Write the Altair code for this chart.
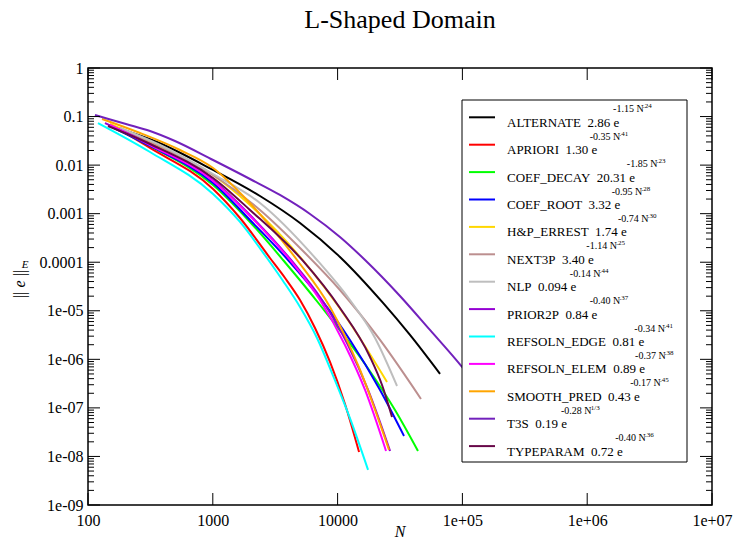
import altair as alt
import pandas as pd

# ---------------- data ----------------
series_names = ["ALTERNATE", "APRIORI", "COEF_DECAY", "COEF_ROOT", "H&P_ERREST",
                "NEXT3P", "NLP", "PRIOR2P", "REFSOLN_EDGE", "REFSOLN_ELEM",
                "SMOOTH_PRED", "T3S", "TYPEPARAM"]
series_colors = ["#000000", "#FF0000", "#00FF00", "#0000FF", "#FFD700",
                 "#BC8F8F", "#BEBEBE", "#9400D3", "#00FFFF", "#FF00FF",
                 "#FFA500", "#7221BC", "#670748"]
fit_coef = ["2.86", "1.30", "20.31", "3.32", "1.74", "3.40", "0.094", "0.84",
            "0.81", "0.89", "0.43", "0.19", "0.72"]
fit_rate = ["-1.15", "-0.35", "-1.85", "-0.95", "-0.74", "-1.14", "-0.14", "-0.40",
            "-0.34", "-0.37", "-0.17", "-0.28", "-0.40"]
fit_power = [".24", ".41", ".23", ".28", ".30", ".25", ".44", ".37", ".41", ".38",
             ".45", "1/3", ".36"]

# log10(N) and log10(||e||_E)
log_n = {
    "ALTERNATE":    [2.232, 2.553, 3.002, 3.378, 3.699, 4.019, 4.364, 4.580, 4.821],
    "APRIORI":      [2.200, 2.497, 3.002, 3.218, 3.458, 3.579, 3.699, 3.819, 3.939,
                     4.059, 4.172],
    "COEF_DECAY":   [2.176, 2.497, 3.002, 3.298, 3.563, 3.859, 4.236, 4.460, 4.644],
    "COEF_ROOT":    [2.176, 2.497, 3.002, 3.298, 3.603, 3.859, 4.099, 4.340, 4.532],
    "H&P_ERREST":   [2.176, 2.497, 3.002, 3.298, 3.699, 4.099, 4.396],
    "NEXT3P":       [2.256, 2.577, 3.002, 3.378, 3.715, 4.019, 4.340, 4.668],
    "NLP":          [2.256, 2.577, 3.002, 3.378, 3.835, 4.099, 4.300, 4.476],
    "PRIOR2P":      [2.136, 2.497, 3.002, 3.298, 3.627, 3.875, 4.083, 4.244, 4.420],
    "REFSOLN_EDGE": [2.080, 2.497, 3.002, 3.218, 3.434, 3.563, 3.699, 3.835, 3.971,
                     4.107, 4.244],
    "REFSOLN_ELEM": [2.176, 2.497, 3.002, 3.298, 3.619, 3.859, 4.059, 4.220, 4.388],
    "SMOOTH_PRED":  [2.112, 2.417, 2.737, 3.002, 3.274, 3.675, 3.939, 4.180, 4.412],
    "T3S":          [2.056, 2.304, 2.497, 2.697, 3.002, 3.298, 3.538, 3.779, 4.019,
                     4.220, 4.500, 4.740, 4.997, 5.141],
    "TYPEPARAM":    [2.160, 2.497, 3.002, 3.298, 3.723, 4.019, 4.260, 4.356, 4.436],
}
log_err = {
    "ALTERNATE":    [-1.236, -1.524, -2.100, -2.636, -3.192, -3.892, -4.839, -5.498, -6.301],
    "APRIORI":      [-1.194, -1.647, -2.492, -3.089, -3.913, -4.325, -4.778, -5.354, -6.054,
                     -6.919, -7.908],
    "COEF_DECAY":   [-1.194, -1.606, -2.409, -3.171, -3.954, -4.881, -6.157, -7.043, -7.887],
    "COEF_ROOT":    [-1.194, -1.606, -2.368, -3.130, -3.954, -4.736, -5.601, -6.631, -7.578],
    "H&P_ERREST":   [-1.153, -1.524, -2.203, -2.821, -3.892, -5.251, -6.466],
    "NEXT3P":       [-1.236, -1.606, -2.203, -2.924, -3.748, -4.572, -5.601, -6.816],
    "NLP":          [-1.236, -1.586, -2.183, -2.780, -3.954, -4.778, -5.560, -6.549],
    "PRIOR2P":      [-1.133, -1.565, -2.306, -3.027, -3.954, -4.778, -5.704, -6.631, -7.887],
    "REFSOLN_EDGE": [-1.133, -1.730, -2.595, -3.171, -3.913, -4.386, -4.922, -5.560, -6.384,
                     -7.269, -8.278],
    "REFSOLN_ELEM": [-1.174, -1.586, -2.327, -3.048, -3.954, -4.778, -5.704, -6.631, -7.887],
    "SMOOTH_PRED":  [-1.050, -1.339, -1.689, -2.059, -2.718, -3.954, -4.922, -6.219, -7.866],
    "T3S":          [-0.968, -1.153, -1.297, -1.503, -1.895, -2.286, -2.615, -3.006, -3.480,
                     -3.954, -4.695, -5.395, -6.157, -6.631],
    "TYPEPARAM":    [-1.194, -1.565, -2.265, -2.924, -3.974, -4.942, -5.951, -6.528, -7.187],
}

x_major = [1e2, 1e3, 1e4, 1e5, 1e6, 1e7]
y_major = [1e-9, 1e-8, 1e-7, 1e-6, 1e-5, 1e-4, 1e-3, 1e-2, 1e-1, 1.0]
y_minor = [m * 10.0 ** k for k in range(-9, 0) for m in range(2, 10)]

# ---------------- layout ----------------
W, H = 624, 437
SERIF = "Liberation Serif, Tinos, Times New Roman, DejaVu Serif, serif"
NB = "\u00a0"

rows = []
for i, s in enumerate(series_names):
    for ln, le in zip(log_n[s], log_err[s]):
        rows.append({"series": s, "order": i, "N": 10.0 ** ln, "err": 10.0 ** le})
df = pd.DataFrame(rows)

xscale = alt.Scale(type="log", domain=[1e2, 1e7], nice=False)
yscale = alt.Scale(type="log", domain=[1e-9, 1.0], nice=False)
cscale = alt.Scale(domain=series_names, range=series_colors)

xaxis = alt.Axis(
    values=x_major, title=None, ticks=False, grid=False, domain=False,
    labelFont=SERIF, labelFontSize=16, labelColor="black", labelPadding=7,
    labelFlush=False, labelOverlap=False,
    labelExpr="datum.value >= 100000 ? '1e+0' + format(log(datum.value)/LN10, '.0f') : format(datum.value, 'd')",
)
yaxis = alt.Axis(
    values=y_major, title=None, ticks=False, grid=False, domain=False,
    labelFont=SERIF, labelFontSize=16, labelColor="black", labelPadding=5,
    labelFlush=False, labelOverlap=False,
    labelExpr="datum.value >= 0.0001 ? format(datum.value, '') : '1e-0' + format(-log(datum.value)/LN10, '.0f')",
)

lines = alt.Chart(df).mark_line(strokeWidth=2, interpolate="monotone", clip=True).encode(
    x=alt.X("N:Q", scale=xscale, axis=xaxis),
    y=alt.Y("err:Q", scale=yscale, axis=yaxis),
    color=alt.Color("series:N", scale=cscale, legend=None),
    detail="series:N",
    order=alt.Order("order:Q"),
)

xt = pd.DataFrame({"N": x_major})
ymaj = pd.DataFrame({"err": y_major})
ymin = pd.DataFrame({"err": y_minor})

def xtick(y0, y1):
    return alt.Chart(xt).mark_rule(color="black", strokeWidth=1).encode(
        x=alt.X("N:Q", scale=xscale, axis=xaxis), y=alt.value(y0), y2=alt.value(y1))

def ytick(d, x0, x1):
    return alt.Chart(d).mark_rule(color="black", strokeWidth=1).encode(
        y=alt.Y("err:Q", scale=yscale, axis=yaxis), x=alt.value(x0), x2=alt.value(x1))

ticks = [
    xtick(H, H - 12), xtick(0, 12),
    ytick(ymaj, 0, 12), ytick(ymaj, W, W - 12),
    ytick(ymin, 0, 6), ytick(ymin, W, W - 6),
]

# ---------------- legend (custom, to allow superscripts) ----------------
TW = {" ": 250, NB: 250, ".": 250, "-": 333, "_": 500, "&": 778, "e": 444, "/": 278}
for c in "0123456789":
    TW[c] = 500
TW.update({"A": 722, "B": 667, "C": 667, "D": 722, "E": 611, "F": 556, "G": 722,
           "H": 722, "I": 333, "J": 389, "K": 722, "L": 611, "M": 889, "N": 722,
           "O": 722, "P": 556, "Q": 722, "R": 667, "S": 556, "T": 611, "U": 722,
           "V": 722, "W": 944, "X": 722, "Y": 722, "Z": 611})

def text_width(s, size):
    return 0.95 * sum(TW.get(ch, 500) for ch in s) * size / 1000.0

F_MAIN, F_SUP, F_SUP2 = 13, 10, 7
leg_rows = []
for i, s in enumerate(series_names):
    ry = 49.3 + 27.4 * i
    main = f"{s}{NB}{NB}{fit_coef[i]}{NB}e"
    sup = f"{fit_rate[i]}{NB}N"
    x0 = 419
    x1 = x0 + text_width(main, F_MAIN) - 3.0
    x2 = x1 + text_width(sup, F_SUP) + 0.8
    leg_rows.append({"series": s, "ry": ry, "main": main, "sup": sup,
                     "sup2": fit_power[i], "x0": x0, "y0": ry + 9.5,
                     "x1": x1, "y1": ry - 5.0, "x2": x2, "y2": ry - 9.0})
leg = pd.DataFrame(leg_rows)
one = pd.DataFrame({"a": [0]})

box = alt.Chart(one).mark_rect(fill="white", stroke="black", strokeWidth=1).encode(
    x=alt.value(374), x2=alt.value(599), y=alt.value(32), y2=alt.value(394))
leg_lines = alt.Chart(leg).mark_rule(strokeWidth=2).encode(
    x=alt.value(381), x2=alt.value(407),
    y=alt.Y("ry:Q", scale=None, axis=None),
    color=alt.Color("series:N", scale=cscale, legend=None))

def leg_text(xf, yf, tf, size):
    return alt.Chart(leg).mark_text(align="left", baseline="alphabetic", font=SERIF,
                                    fontSize=size, color="black").encode(
        x=alt.X(f"{xf}:Q", scale=None, axis=None),
        y=alt.Y(f"{yf}:Q", scale=None, axis=None),
        text=f"{tf}:N")

legend = alt.layer(box, leg_lines,
                   leg_text("x0", "y0", "main", F_MAIN),
                   leg_text("x1", "y1", "sup", F_SUP),
                   leg_text("x2", "y2", "sup2", F_SUP2))

# ---------------- titles ----------------
def label(txt, x, y, size, style="normal", angle=0):
    kw = dict(font=SERIF, fontSize=size, fontStyle=style, color="black",
              align="center", baseline="middle")
    if angle:
        kw["angle"] = angle
    return alt.Chart(one).mark_text(text=txt, **kw).encode(x=alt.value(x), y=alt.value(y))

titles = alt.layer(
    label("L-Shaped Domain", 312, -48, 26),
    label("N", 312, 464, 16, "italic"),
    label("||", -68, 227, 16, angle=270),
    label("e", -68, 216, 16, "italic", angle=270),
    label("||", -68, 205, 16, angle=270),
    label("E", -63, 197, 11, "italic"),
)

plot = alt.layer(lines, *ticks)
chart = alt.layer(plot, legend, titles).resolve_scale(
    x="independent", y="independent"
).properties(
    width=W, height=H,
    autosize=alt.AutoSizeParams(type="none"),
    padding={"left": 88, "top": 68, "right": 23, "bottom": 43},
    background="white",
).configure_view(stroke="black", strokeWidth=1.5)

chart.save("out.html", embed_options={"renderer": "svg", "actions": False})
